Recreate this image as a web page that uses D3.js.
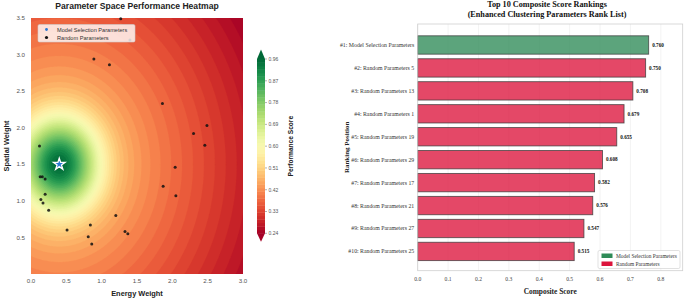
<!DOCTYPE html>
<html><head><meta charset="utf-8">
<script src="https://cdn.jsdelivr.net/npm/d3@7"></script>
<style>body{margin:0;background:#fff}svg{display:block}</style>
</head><body>
<svg id="c" width="685" height="299"></svg>
<script>
// ---------- data ----------
const randomEnergy  = [1.27, 0.89, 1.11, 1.86, 2.49, 2.30, 2.46, 0.12, 2.04, 0.13, 0.16, 0.20, 1.87, 2.05, 0.20, 0.14, 0.17, 0.25, 1.20, 0.51, 0.84, 1.33, 1.37, 0.81, 0.86, 1.40];
const randomSpatial = [3.49, 2.94, 2.86, 2.33, 2.03, 1.92, 1.76, 1.75, 1.46, 1.33, 1.33, 1.30, 1.20, 1.07, 1.09, 1.02, 0.97, 0.87, 0.80, 0.60, 0.67, 0.58, 0.55, 0.51, 0.41, 3.20];
const modelEnergy = [0.4];
const modelSpatial = [1.5];
const peakCenter = [0.4, 1.5];          // centre of the performance surface
const scoreRange = [0.24, 0.96];        // colour bar range
const cbarTicks = [0.24, 0.33, 0.42, 0.51, 0.60, 0.69, 0.78, 0.87, 0.96];
const xTicksL = [0.0, 0.5, 1.0, 1.5, 2.0, 2.5, 3.0];
const yTicksL = [0.5, 1.0, 1.5, 2.0, 2.5, 3.0, 3.5];

const rankLabels = ["#1: Model Selection Parameters","#2: Random Parameters 5","#3: Random Parameters 13","#4: Random Parameters 1","#5: Random Parameters 19","#6: Random Parameters 29","#7: Random Parameters 17","#8: Random Parameters 21","#9: Random Parameters 27","#10: Random Parameters 25"];
const rankScores = [0.760, 0.750, 0.708, 0.679, 0.655, 0.608, 0.582, 0.576, 0.547, 0.515];
const rankType = ["model","random","random","random","random","random","random","random","random","random"];
const xTicksR = [0.0,0.1,0.2,0.3,0.4,0.5,0.6,0.7,0.8];

const svg = d3.select("#c");
const sans = "'Liberation Sans', Arial, sans-serif";
const serif = "'Liberation Serif', 'Times New Roman', serif";

// ---------- left: heatmap ----------
const L = {x0:31, x1:243, y0:18, y1:274};
const xL = d3.scaleLinear().domain([0,3]).range([L.x0, L.x1]);
const yL = d3.scaleLinear().domain([0,3.5]).range([L.y1, L.y0]);
const color = t => d3.interpolateRdYlGn(Math.max(0, Math.min(1,(t-scoreRange[0])/(scoreRange[1]-scoreRange[0]))));

// performance surface shape: broad linear falloff + gaussian peak (elliptical)
const ySquash = 0.87, baseLevel = 0.5, baseSlope = 0.1, peakAmp = 0.46, peakSigma = 0.38;
function shape(E,S){
  const dx = E-peakCenter[0], dy = (S-peakCenter[1])*ySquash;
  const d2 = dx*dx+dy*dy, d = Math.sqrt(d2);
  return baseLevel - baseSlope*d + peakAmp*Math.exp(-d2/(2*peakSigma*peakSigma));
}
const nx = 151, ny = 176;
const raw = new Array(nx*ny);
for (let j=0;j<ny;j++) for (let i=0;i<nx;i++){
  const E = i*3/(nx-1), S = 3.5 - j*3.5/(ny-1);
  raw[j*nx+i] = shape(E,S);
}
const rmin = d3.min(raw), rmax = d3.max(raw);
const field = raw.map(v => scoreRange[0] + (scoreRange[1]-scoreRange[0])*(v-rmin)/(rmax-rmin));

svg.append("clipPath").attr("id","clipL").append("rect")
  .attr("x",L.x0).attr("y",L.y0).attr("width",L.x1-L.x0).attr("height",L.y1-L.y0);
const gH = svg.append("g").attr("clip-path","url(#clipL)");
gH.append("rect").attr("x",L.x0).attr("y",L.y0).attr("width",L.x1-L.x0).attr("height",L.y1-L.y0).attr("fill",color(scoreRange[0]));
const nLev = 50;
const thresholds = d3.range(nLev).map(k => scoreRange[0] + (scoreRange[1]-scoreRange[0])*k/nLev);
const contours = d3.contours().size([nx,ny]).thresholds(thresholds)(field);
const proj = d3.geoTransform({point:function(gx,gy){
  const E = (gx-0.5)*3/(nx-1), S = 3.5-(gy-0.5)*3.5/(ny-1);
  this.stream.point(xL(E), yL(S));
}});
const path = d3.geoPath(proj);
gH.selectAll("path.lev").data(contours).join("path").attr("class","lev")
  .attr("d",path).attr("fill",d => color(d.value + (scoreRange[1]-scoreRange[0])/nLev/2))
  .attr("stroke",d => color(d.value + (scoreRange[1]-scoreRange[0])/nLev/2)).attr("stroke-width",0.3);

// random points
svg.append("g").selectAll("circle").data(randomEnergy.map((e,i)=>[e,randomSpatial[i]])).join("circle")
  .attr("cx",d=>xL(d[0])).attr("cy",d=>yL(d[1])).attr("r",1.5).attr("fill","#111").attr("opacity",0.85);
// star
svg.append("g").selectAll("path").data(modelEnergy.map((e,i)=>[e,modelSpatial[i]])).join("path")
  .attr("transform",d=>`translate(${xL(d[0])},${yL(d[1])})`)
  .attr("d",d3.symbol(d3.symbolStar,42)).attr("fill","#2a78d4").attr("stroke","#fff").attr("stroke-width",1.3);

// axes
const axL = svg.append("g").attr("font-family",sans).attr("font-size",6.2).attr("fill","#555");
axL.selectAll("text.xt").data(xTicksL).join("text").attr("class","xt")
  .attr("x",d=>xL(d)).attr("y",283).attr("text-anchor","middle").text(d=>d.toFixed(1));
axL.selectAll("text.yt").data(yTicksL).join("text").attr("class","yt")
  .attr("x",25).attr("y",d=>yL(d)+2.2).attr("text-anchor","end").text(d=>d.toFixed(1));
svg.append("text").attr("x",(L.x0+L.x1)/2).attr("y",9).attr("text-anchor","middle")
  .attr("font-family",sans).attr("font-weight","bold").attr("font-size",8.6).attr("fill","#222")
  .text("Parameter Space Performance Heatmap");
svg.append("text").attr("x",(L.x0+L.x1)/2).attr("y",295.5).attr("text-anchor","middle")
  .attr("font-family",sans).attr("font-weight","bold").attr("font-size",7.4).attr("fill","#222")
  .text("Energy Weight");
svg.append("text").attr("transform",`translate(8.5,${(L.y0+L.y1)/2}) rotate(-90)`).attr("text-anchor","middle")
  .attr("font-family",sans).attr("font-weight","bold").attr("font-size",7.4).attr("fill","#222")
  .text("Spatial Weight");

// legend (left)
const lg = svg.append("g");
lg.append("rect").attr("x",38).attr("y",24.5).attr("width",97).attr("height",17.5).attr("rx",1.5)
  .attr("fill","#fff").attr("fill-opacity",0.8).attr("stroke","#ccc").attr("stroke-width",0.6);
lg.append("circle").attr("cx",46.5).attr("cy",29.5).attr("r",1.4).attr("fill","#2a78d4");
lg.append("circle").attr("cx",46.5).attr("cy",37.5).attr("r",1.6).attr("fill","#111");
lg.selectAll("text").data(["Model Selection Parameters","Random Parameters"]).join("text")
  .attr("x",57).attr("y",(d,i)=>31.5+i*8).attr("font-family",sans).attr("font-size",5.6).attr("fill","#333").text(d=>d);

// colour bar
const CB = {x:257, w:8, top:59, bot:233.3};
const yCB = d3.scaleLinear().domain(scoreRange).range([CB.bot, CB.top]);
const cbg = svg.append("g");
const nSeg = nLev;
for (let k=0;k<nSeg;k++){
  const v0 = scoreRange[0]+(scoreRange[1]-scoreRange[0])*k/nSeg, v1 = scoreRange[0]+(scoreRange[1]-scoreRange[0])*(k+1)/nSeg;
  cbg.append("rect").attr("x",CB.x).attr("y",yCB(v1)).attr("width",CB.w).attr("height",yCB(v0)-yCB(v1)+0.4)
    .attr("fill",color((v0+v1)/2));
}
cbg.append("path").attr("d",`M${CB.x},${CB.top} L${CB.x+CB.w/2},${CB.top-9.5} L${CB.x+CB.w},${CB.top} Z`).attr("fill",color(scoreRange[1]+0.01));
cbg.append("path").attr("d",`M${CB.x},${CB.bot} L${CB.x+CB.w/2},${CB.bot+8.5} L${CB.x+CB.w},${CB.bot} Z`).attr("fill",color(scoreRange[0]-0.01));
cbg.selectAll("line").data(cbarTicks).join("line").attr("x1",CB.x+CB.w).attr("x2",CB.x+CB.w+2)
  .attr("y1",d=>yCB(d)).attr("y2",d=>yCB(d)).attr("stroke","#666").attr("stroke-width",0.5);
cbg.selectAll("text").data(cbarTicks).join("text").attr("x",CB.x+CB.w+3.5).attr("y",d=>yCB(d)+1.8)
  .attr("font-family",sans).attr("font-size",5).attr("fill","#555").text(d=>d.toFixed(2));
svg.append("text").attr("transform",`translate(293,${(CB.top+CB.bot)/2}) rotate(-90)`).attr("text-anchor","middle")
  .attr("font-family",sans).attr("font-weight","bold").attr("font-size",6.6).attr("fill","#222").text("Performance Score");

// ---------- right: ranking bars ----------
const R = {x0:417.7, x1:682.7, y0:24, y1:270.7};
const xR = d3.scaleLinear().domain([0,0.872]).range([R.x0,R.x1]);
const yR = d3.scaleLinear().domain([-0.915, 9.84]).range([R.y0,R.y1]);
const gR = svg.append("g");
gR.append("rect").attr("x",R.x0).attr("y",R.y0).attr("width",R.x1-R.x0).attr("height",R.y1-R.y0).attr("fill","#fff");
gR.selectAll("line.grid").data(xTicksR).join("line").attr("class","grid")
  .attr("x1",d=>xR(d)).attr("x2",d=>xR(d)).attr("y1",R.y0).attr("y2",R.y1).attr("stroke","#ebebeb").attr("stroke-width",0.6);
const bh = yR(0.8)-yR(0);
gR.selectAll("rect.bar").data(rankScores).join("rect").attr("class","bar")
  .attr("x",xR(0)).attr("y",(d,i)=>yR(i)-bh/2).attr("width",d=>xR(d)-xR(0)).attr("height",bh)
  .attr("fill",(d,i)=>rankType[i]==="model"?"#2e8b57":"#dc143c").attr("fill-opacity",0.78)
  .attr("stroke","#3a3a3a").attr("stroke-opacity",0.8).attr("stroke-width",0.9);
gR.selectAll("text.val").data(rankScores).join("text").attr("class","val")
  .attr("x",d=>xR(d)+3.5).attr("y",(d,i)=>yR(i)+1.8).attr("font-family",serif).attr("font-weight","bold")
  .attr("font-size",5.2).attr("fill","#111").text(d=>d.toFixed(3));
gR.selectAll("text.cat").data(rankLabels).join("text").attr("class","cat")
  .attr("x",R.x0-3.5).attr("y",(d,i)=>yR(i)+2).attr("text-anchor","end").attr("font-family",serif)
  .attr("font-size",5.8).attr("fill","#333").text(d=>d);
gR.append("rect").attr("x",R.x0).attr("y",R.y0).attr("width",R.x1-R.x0).attr("height",R.y1-R.y0)
  .attr("fill","none").attr("stroke","#cfcfcf").attr("stroke-width",0.8);
gR.selectAll("text.xt").data(xTicksR).join("text").attr("class","xt")
  .attr("x",d=>xR(d)).attr("y",281).attr("text-anchor","middle").attr("font-family",serif)
  .attr("font-size",5.6).attr("fill","#444").text(d=>d.toFixed(1));
svg.append("text").attr("x",(R.x0+R.x1)/2).attr("y",293.5).attr("text-anchor","middle")
  .attr("font-family",serif).attr("font-weight","bold").attr("font-size",7.4).attr("fill","#222").text("Composite Score");
svg.append("text").attr("transform",`translate(349,${(R.y0+R.y1)/2}) rotate(-90)`).attr("text-anchor","middle")
  .attr("font-family",serif).attr("font-weight","bold").attr("font-size",7).attr("fill","#222").text("Ranking Position");
svg.selectAll("text.rt").data(["Top 10 Composite Score Rankings","(Enhanced Clustering Parameters Rank List)"]).join("text")
  .attr("class","rt").attr("x",547).attr("y",(d,i)=>7+i*10.4).attr("text-anchor","middle")
  .attr("font-family",serif).attr("font-weight","bold").attr("font-size",8.2).attr("fill","#111").text(d=>d);

// legend (right)
const lr = svg.append("g");
lr.append("rect").attr("x",598).attr("y",250.5).attr("width",82).attr("height",18).attr("rx",1.5)
  .attr("fill","#fff").attr("fill-opacity",0.85).attr("stroke","#ccc").attr("stroke-width",0.6);
lr.append("rect").attr("x",601.5).attr("y",253.5).attr("width",11).attr("height",4.5).attr("fill","#2e8b57");
lr.append("rect").attr("x",601.5).attr("y",261.5).attr("width",11).attr("height",4.5).attr("fill","#dc143c");
lr.selectAll("text").data(["Model Selection Parameters","Random Parameters"]).join("text")
  .attr("x",616).attr("y",(d,i)=>257.6+i*8).attr("font-family",serif).attr("font-size",5.4).attr("fill","#333").text(d=>d);
</script>
</body></html>
